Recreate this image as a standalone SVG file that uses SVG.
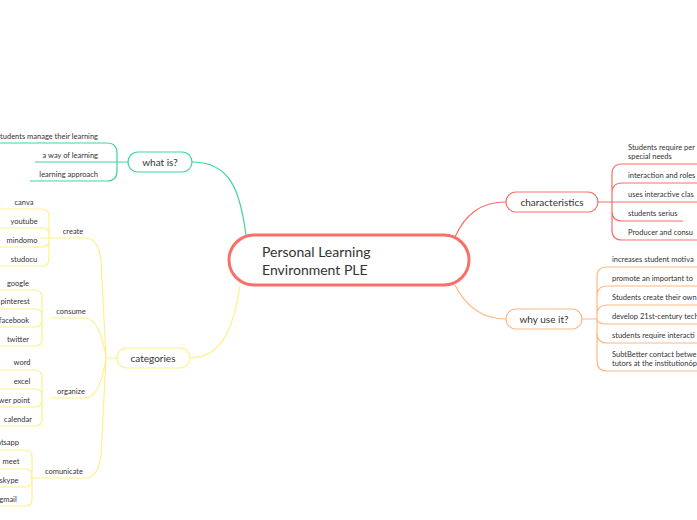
<svg xmlns="http://www.w3.org/2000/svg" width="697" height="520" viewBox="0 0 697 520">
<style>
text{font-family:Lato,"Open Sans",sans-serif;fill:#333}
.l{font-size:7.5px}
.m{font-size:10px}
.c{fill:none;stroke-width:1.2}
.g{stroke:#3dd6a0}.y{stroke:#fff08a}.r{stroke:#f87068}.o{stroke:#ffb880}
.n{fill:#fff;stroke-width:1.2}
</style>
<rect width="697" height="520" fill="#fff"/>
<g id="connectors">
<path class="c g" stroke-width="1.6" d="M192,162 C230,162 240,190 246,235"/>
<path class="c y" stroke-width="1.6" d="M190,358 C225,358 235,320 240,285"/>
<path class="c r" stroke-width="1.6" d="M455,237 C465,215 480,202 506,202"/>
<path class="c o" stroke-width="1.6" d="M455,285 C465,305 480,319 506,319"/>
<!-- what is -->
<path class="c g" d="M128,162 L117,162 M0,143 L107,143 Q117,143 117,153 L117,171 Q117,181 107,181 L30,181 M35,162 L117,162"/>
<!-- categories -->
<path class="c y" d="M117,358 L106,358 M50,238 L85,238 Q98,238 101,260 L106,358 L101,456 Q98,478 85,478 L30,478 M50,318 L85,318 Q100,318 106,358 M50,398 L85,398 Q100,398 106,358"/>
<path class="c y" d="M50,238 L40,238 M0,209 L42,209 Q49,209 49,216 L49,259 Q49,266 42,266 L0,266 M0,228 L42,228 Q49,228 49,235 M0,247 L42,247 Q49,247 49,240"/>
<path class="c y" d="M0,290 L35,290 Q42,290 42,297 L42,339 Q42,346 35,346 L0,346 M0,309 L35,309 Q42,309 42,316 M0,327 L35,327 Q42,327 42,320"/>
<path class="c y" d="M0,370 L35,370 Q42,370 42,377 L42,419 Q42,426 35,426 L0,426 M0,389 L35,389 Q42,389 42,396 M0,407 L35,407 Q42,407 42,400"/>
<path class="c y" d="M0,450 L25,450 Q32,450 32,457 L32,499 Q32,506 25,506 L0,506 M0,469 L25,469 Q32,469 32,476 M0,487 L25,487 Q32,487 32,480"/>
<!-- characteristics -->
<path class="c r" d="M598,202 L697,202 M697,164 L622,164 Q612,164 612,174 L612,230 Q612,240 622,240 L697,240 M697,183 L622,183 Q612,183 612,193 M612,211 Q612,221 622,221 L683,221"/>
<!-- why -->
<path class="c o" d="M582,319 L597,319 M697,267 L607,267 Q597,267 597,277 L597,361 Q597,371 607,371 L697,371 M697,286 L607,286 Q597,286 597,296 M697,305 L607,305 Q597,305 597,315 M697,324 L607,324 Q597,324 597,319 M697,343 L607,343 Q597,343 597,333"/>
</g>
<g id="center"><rect x="229" y="235" width="240" height="50" rx="25" fill="#fff" stroke="#f87068" stroke-width="3"/>
<text x="262" y="257" font-size="14">Personal Learning</text><text x="262" y="275" font-size="14">Environment PLE</text></g>
<g id="whatis"><rect class="n g" x="128" y="152" width="64" height="20" rx="10"/><text class="m" x="160" y="166" text-anchor="middle">what is?</text>
<text class="l" x="98" y="139" text-anchor="end">students manage their learning</text><text class="l" x="98" y="158" text-anchor="end">a way of learning</text><text class="l" x="98" y="177" text-anchor="end">learning approach</text></g>
<g id="categories"><rect class="n y" x="117" y="348" width="73" height="20" rx="10"/><text class="m" x="153" y="362" text-anchor="middle">categories</text>
<text class="l" x="73" y="234" text-anchor="middle">create</text>
<text class="l" x="24" y="205" text-anchor="middle">canva</text><text class="l" x="24" y="224" text-anchor="middle">youtube</text><text class="l" x="22" y="243" text-anchor="middle">mindomo</text><text class="l" x="24" y="262" text-anchor="middle">studocu</text>
<text class="l" x="71" y="314" text-anchor="middle">consume</text>
<text class="l" x="18" y="286" text-anchor="middle">google</text><text class="l" x="15" y="304" text-anchor="middle">pinterest</text><text class="l" x="14" y="323" text-anchor="middle">facebook</text><text class="l" x="18" y="342" text-anchor="middle">twitter</text>
<text class="l" x="71" y="394" text-anchor="middle">organize</text>
<text class="l" x="22" y="365" text-anchor="middle">word</text><text class="l" x="22" y="384" text-anchor="middle">excel</text><text class="l" x="30" y="403" text-anchor="end">power point</text><text class="l" x="18" y="422" text-anchor="middle">calendar</text>
<text class="l" x="64" y="474" text-anchor="middle">comunicate</text>
<text class="l" x="19" y="445" text-anchor="end">whatsapp</text><text class="l" x="11" y="464" text-anchor="middle">meet</text><text class="l" x="9" y="483" text-anchor="middle">skype</text><text class="l" x="8" y="502" text-anchor="middle">gmail</text></g>
<g id="characteristics"><rect class="n r" x="506" y="192" width="92" height="20" rx="10"/><text class="m" x="552" y="206" text-anchor="middle">characteristics</text>
<text class="l" x="628" y="150">Students require per</text><text class="l" x="628" y="159">special needs</text><text class="l" x="628" y="178">interaction and roles</text><text class="l" x="628" y="197">uses interactive clas</text><text class="l" x="628" y="216">students serius</text><text class="l" x="628" y="235">Producer and consu</text></g>
<g id="why"><rect class="n o" x="506" y="309" width="76" height="20" rx="10"/><text class="m" x="544" y="323" text-anchor="middle">why use it?</text>
<text class="l" x="612" y="262">increases student motiva</text><text class="l" x="612" y="281">promote an important to</text><text class="l" x="612" y="300">Students create their own</text><text class="l" x="612" y="319">develop 21st-century tech</text><text class="l" x="612" y="338">students require interacti</text><text class="l" x="612" y="357">SubtBetter contact betwe</text><text class="l" x="612" y="366">tutors at the institutionóp</text></g>
</svg>
